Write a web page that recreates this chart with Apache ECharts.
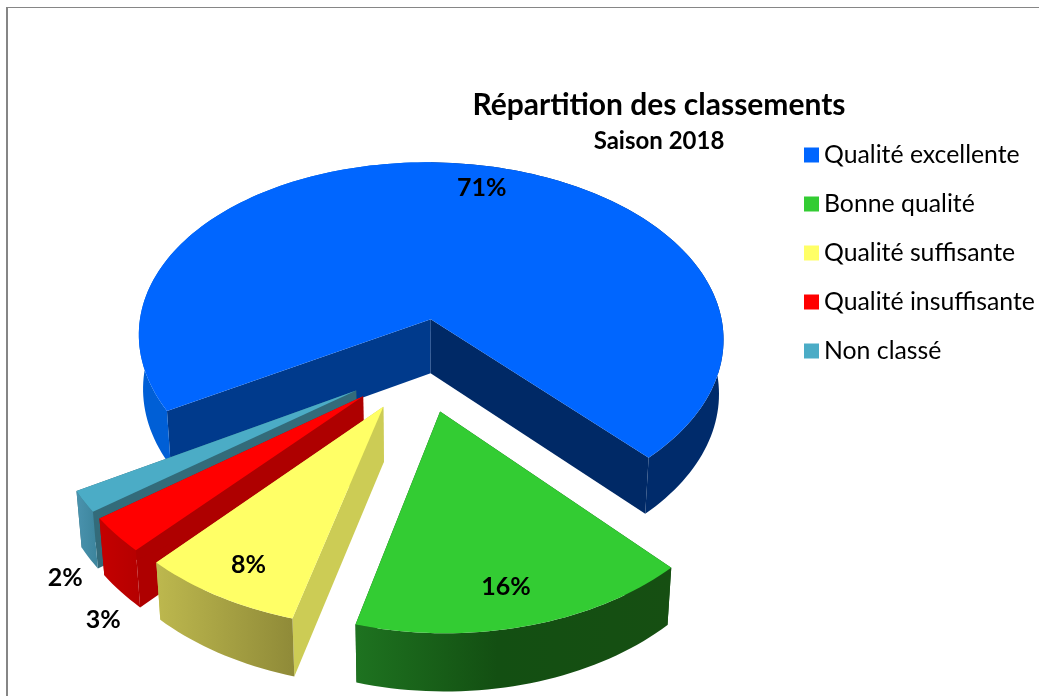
<!DOCTYPE html>
<html>
<head>
<meta charset="utf-8">
<script src="https://cdn.jsdelivr.net/npm/echarts@6/dist/echarts.min.js"></script>
<style>html,body{margin:0;padding:0;background:#fff}#c{width:1039px;height:696px}</style>
</head>
<body>
<div id="c"></div>
<script>
// ---- data ----
const categories = ['Qualité excellente', 'Bonne qualité', 'Qualité suffisante', 'Qualité insuffisante', 'Non classé'];
const shares = [71.3, 16.2, 7.7, 3.0, 1.8];
const titleText = 'Répartition des classements';
const subtitleText = 'Saison 2018';

// ---- styles ----
const topColors = ['#0066FF', '#33CC33', '#FFFF66', '#FF0000', '#4BACC6'];
const rimStops = [
  [[0, '#005FD6'], [0.5, '#005FD6'], [0.5, '#002B6B'], [1, '#002B6B']],
  [[0, '#1E7320'], [0.45, '#134F12'], [1, '#164F12']],
  [[0, '#BDB84E'], [1, '#8F8A38']],
  [[0, '#C40000'], [1, '#B50000']],
  [[0, '#4A93AE'], [1, '#3C849C']]
];
const faceColors = [
  ['#003A8C', '#002966'], ['#134F12', '#134F12'], ['#CCCC55', '#CCCC55'],
  ['#AE0000', '#AE0000'], ['#336B7A', '#336B7A']
];
const font = 'Lato, "Open Sans", sans-serif';

// ---- layout of the tilted pie ----
const view = { cx: 420.5, cy: 364.4, rx: 298.5, ry: 184.6, persp: 0.115, perspX: 0.105, shear: 3, explode: 0.255, firstAngle: -60.2 };
const labelRadius = [0.75, 0.75, 0.75, 1, 1];
const labelNudge = [[24, -12], [2, 20], [-14, 20], [-13, 85], [-19, 76]];
const drawOrder = [0, 4, 3, 2, 1];

const total = shares.reduce((a, b) => a + b, 0);
const rad = d => d * Math.PI / 180;

function project(X, Y) {
  const s = 1 / (1 - view.persp * Y);
  const sx = 1 / (1 - view.perspX * Y);
  return [view.cx + view.rx * X * sx + view.shear * Y, view.cy + view.ry * Y * s];
}
function drop(p, Y) { // point on the lower face of the disc, straight below p
  return [view.cx + (p[0] - view.cx) * 0.985, p[1] + 54.7 + 2.8 * Y];
}

function sliceAngles(i) {
  let a = view.firstAngle;
  for (let k = 0; k < i; k++) a -= shares[k] / total * 360;
  return [a, a - shares[i] / total * 360];
}

function buildSlice(i, value) {
  const [a0, a1] = sliceAngles(i);
  const mid = rad((a0 + a1) / 2);
  const ox = view.explode * Math.sin(mid), oy = view.explode * Math.cos(mid);
  const apexTop = project(ox, oy);
  const apexLow = drop(apexTop, oy);
  const arcTop = [], arcLow = [];
  const n = Math.max(4, Math.ceil(Math.abs(a1 - a0) / 1.5));
  for (let j = 0; j <= n; j++) {
    const t = rad(a0 + (a1 - a0) * j / n);
    const X = ox + Math.sin(t), Y = oy + Math.cos(t);
    const p = project(X, Y);
    arcTop.push(p);
    arcLow.push(drop(p, Y));
  }
  const poly = (points, fill) => ({ type: 'polygon', silent: true, shape: { points }, style: { fill } });
  const children = [
    poly([apexTop, arcTop[0], arcLow[0], apexLow], faceColors[i][0]),
    poly([apexTop, arcTop[n], arcLow[n], apexLow], faceColors[i][1]),
    poly(arcTop.concat(arcLow.slice().reverse()),
      new echarts.graphic.LinearGradient(0, 0, 1, 0,
        rimStops[i].map(s => ({ offset: s[0], color: s[1] })))),
    poly([apexTop].concat(arcTop), topColors[i])
  ];
  const r = labelRadius[i];
  const lp = project(ox + r * Math.sin(mid), oy + r * Math.cos(mid));
  children.push({
    type: 'text', silent: true, z2: 50,
    style: {
      text: Math.round(value / total * 100) + '%',
      x: lp[0] + labelNudge[i][0], y: lp[1] + labelNudge[i][1],
      align: 'center', verticalAlign: 'middle',
      font: 'bold 25px ' + font, fill: '#000'
    }
  });
  return { type: 'group', children };
}

const chart = echarts.init(document.getElementById('c'), null, { renderer: 'canvas' });
chart.setOption({
  animation: false,
  backgroundColor: '#fff',
  title: {
    text: titleText, subtext: subtitleText,
    left: 654, top: 85, textAlign: 'center', itemGap: 9,
    textStyle: { fontFamily: font, fontWeight: 'bold', fontSize: 30, color: '#000' },
    subtextStyle: { fontFamily: font, fontWeight: 'bold', fontSize: 24, color: '#000' }
  },
  legend: {
    orient: 'vertical', left: 804, top: 141,
    data: categories, icon: 'rect',
    itemWidth: 15, itemHeight: 15, itemGap: 21, padding: 0,
    selectedMode: false,
    textStyle: { fontFamily: font, fontSize: 24.8, color: '#000', padding: 0, height: 28, lineHeight: 28 }
  },
  graphic: [
    { type: 'rect', silent: true, shape: { x: 6, y: 7, width: 2, height: 689 }, style: { fill: '#868686' } },
    { type: 'rect', silent: true, shape: { x: 6, y: 7, width: 1033, height: 1 }, style: { fill: '#868686' } }
  ],
  series: drawOrder.map(i => ({
    type: 'custom',
    name: categories[i],
    coordinateSystem: 'none',
    itemStyle: { color: topColors[i] },
    data: [shares[i]],
    renderItem: (params, api) => buildSlice(i, api.value(0))
  }))
});
</script>
</body>
</html>
